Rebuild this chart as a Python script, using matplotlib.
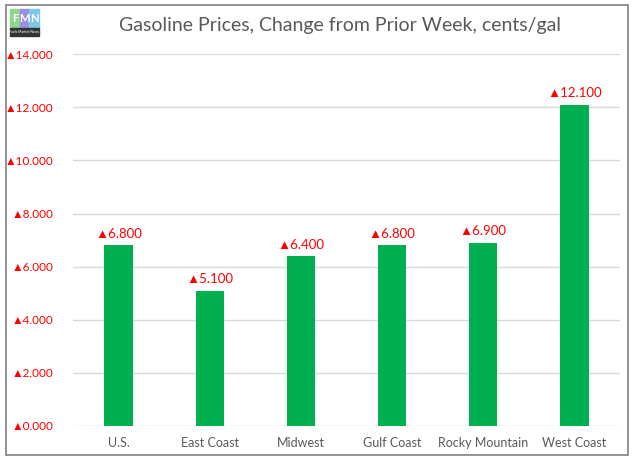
import matplotlib.pyplot as plt
from matplotlib.patches import Rectangle

regiones = ["U.S.", "East Coast", "Midwest", "Gulf Coast", "Rocky Mountain", "West Coast"]
cambios = [6.8, 5.1, 6.4, 6.8, 6.9, 12.1]
ticks_y = [0, 2, 4, 6, 8, 10, 12, 14]

fuentes = ['Lato', 'Liberation Sans', 'DejaVu Sans']
plt.rcParams['font.family'] = fuentes

fig = plt.figure(figsize=(6.34, 4.63), dpi=100)
ax = fig.add_axes([0.115, 0.080, 0.863, 0.803])

x = list(range(len(regiones)))
ax.bar(x, cambios, width=0.31, color='#00B050', zorder=3)

for xi, v in zip(x, cambios):
    ax.text(xi, v + 0.2, "▲" + f"{v:.3f}", ha='center', va='bottom',
            color='#FF0000', fontsize=9.5)

ax.set_ylim(0, 14)
ax.set_xlim(-0.5, len(regiones) - 0.5)
ax.set_yticks(ticks_y)
ax.set_yticklabels(["▲" + f"{t:.3f}" for t in ticks_y], color='#FF0000', fontsize=8.5)
ax.set_xticks(x)
ax.set_xticklabels(regiones, color='#595959', fontsize=9)
ax.tick_params(length=0, pad=8)
ax.tick_params(axis='y', pad=14)
ax.grid(axis='y', color='#D9D9D9', linewidth=1, zorder=0)
for s in ax.spines.values():
    s.set_visible(False)

fig.text(0.537, 0.946, "Gasoline Prices, Change from Prior Week, cents/gal",
         ha='center', va='center', fontsize=14, color='#595959')

# borde del grafico
fig.patches.append(Rectangle((0.009, 0.017), 0.982, 0.972, transform=fig.transFigure,
                             fill=False, edgecolor='#808080', linewidth=1.2))

# logo aproximado
colores_logo = ['#8FD68F', '#9C8FE0', '#7FC8E8']
for i, (letra, c) in enumerate(zip("FMN", colores_logo)):
    x0 = 0.016 + i * 0.015
    fig.patches.append(Rectangle((x0, 0.94), 0.015, 0.04, transform=fig.transFigure,
                                 color=c))
    fig.text(x0 + 0.0075, 0.96, letra, ha='center', va='center', fontsize=8,
             color='white', weight='bold')
fig.patches.append(Rectangle((0.016, 0.923), 0.045, 0.017, transform=fig.transFigure,
                             color='#333333'))
fig.text(0.0385, 0.931, "Fuels Market News", ha='center', va='center', fontsize=2.5,
         color='white')

fig.savefig("out.png", dpi=100)
